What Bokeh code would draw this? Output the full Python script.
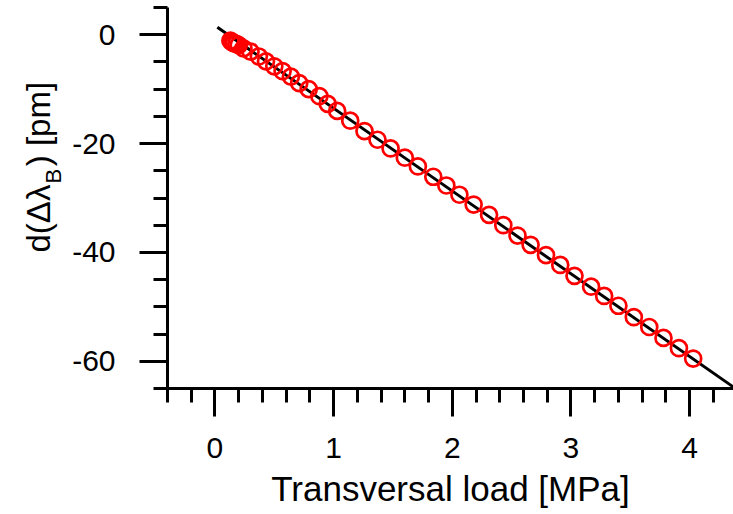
import math
from bokeh.plotting import figure
from bokeh.models import Range1d, SingleIntervalTicker, Label, PrintfTickFormatter
from bokeh.embed import file_html
from bokeh.resources import INLINE

# data
load_mpa = [0.13, 0.14, 0.15, 0.16, 0.18, 0.20, 0.24, 0.30, 0.37, 0.43, 0.50, 0.57,
            0.64, 0.71, 0.79, 0.88, 0.95, 1.03, 1.14, 1.26, 1.37, 1.48, 1.60, 1.71,
            1.84, 1.95, 2.06, 2.18, 2.31, 2.43, 2.55, 2.66, 2.79, 2.91, 3.03, 3.17,
            3.28, 3.40, 3.53, 3.66, 3.78, 3.91, 4.03]
d_lambda_pm = [-1.1, -1.3, -1.4, -1.6, -1.7, -1.9, -2.5, -3.1, -4.0, -4.9, -5.8, -6.7,
               -7.7, -8.9, -10.0, -11.3, -12.7, -14.0, -15.8, -17.7, -19.3, -20.9, -22.6, -24.2,
               -26.1, -27.7, -29.4, -31.2, -33.1, -35.0, -36.9, -38.6, -40.5, -42.3, -44.3, -46.3,
               -48.0, -49.8, -51.9, -53.7, -55.7, -57.6, -59.5]
fit_x = [0.02, 4.40]
fit_y = [1.38, -65.2]

x_title = "Transversal load [MPa]"
y_title_parts = ["d(\u0394\u03bb", "B", ") [pm]"]

FONT = "Liberation Sans"

p = figure(width=733, height=510, output_backend="svg", toolbar_location=None,
           x_range=Range1d(-0.4, 4.37), y_range=Range1d(-65, 5),
           min_border_left=167, min_border_right=0, min_border_top=7,
           min_border_bottom=122)
p.outline_line_color = None
p.xgrid.visible = False
p.ygrid.visible = False
p.background_fill_color = "white"
p.border_fill_color = "white"

p.line(fit_x, fit_y, line_color="black", line_width=3)
p.scatter(load_mpa, d_lambda_pm, marker="circle", size=16, fill_color=None,
          line_color="#ff0000", line_width=2.7)

for ax in (p.xaxis[0], p.yaxis[0]):
    ax.axis_line_width = 3
    ax.axis_line_color = "black"
    ax.major_tick_line_width = 3
    ax.minor_tick_line_width = 3
    ax.major_tick_out = 28
    ax.major_tick_in = 0
    ax.minor_tick_out = 14
    ax.minor_tick_in = 0
    ax.major_label_text_font = FONT
    ax.major_label_text_font_size = "30px"
    ax.major_label_text_color = "black"
    ax.formatter = PrintfTickFormatter(format="%d")

p.xaxis[0].ticker = SingleIntervalTicker(interval=1, num_minor_ticks=5)
p.yaxis[0].ticker = SingleIntervalTicker(interval=20, num_minor_ticks=4)
p.xaxis[0].major_label_standoff = 21
p.yaxis[0].major_label_standoff = 24

p.xaxis[0].axis_label = x_title
p.xaxis[0].axis_label_text_font = FONT
p.xaxis[0].axis_label_text_font_size = "35px"
p.xaxis[0].axis_label_text_font_style = "normal"
p.xaxis[0].axis_label_text_color = "black"
p.xaxis[0].axis_label_standoff = 8

# y title: main text with a gap for the subscript, plus the subscript itself
main_text = y_title_parts[0] + "\u00a0\u00a0" + y_title_parts[2]
label_specs = [
    (main_text, 38, 252, "33px"),
    (y_title_parts[1], 53, 183, "22px"),
]
for txt, cx, cy, fs in label_specs:
    p.add_layout(Label(x=cx, y=cy, x_units="canvas", y_units="canvas", text=txt,
                       angle=math.pi / 2, text_align="left", text_baseline="alphabetic",
                       text_font=FONT, text_font_size=fs, text_color="black"), "left")

open("out.html", "w").write(file_html(p, INLINE))
